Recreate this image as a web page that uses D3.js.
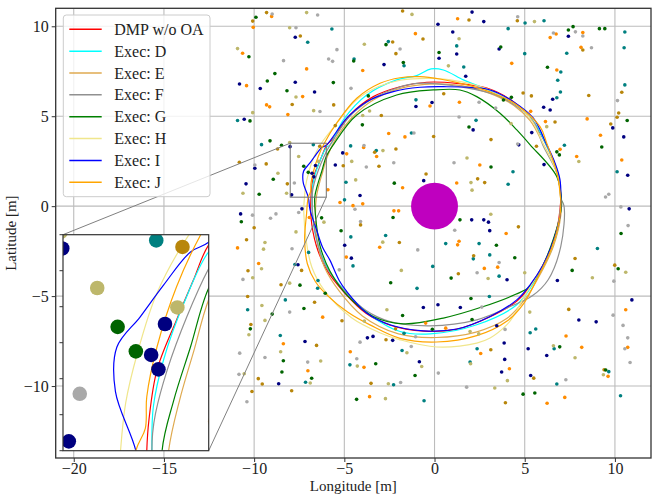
<!DOCTYPE html>
<html>
<head>
<meta charset="utf-8">
<script src="https://cdn.jsdelivr.net/npm/d3@7"></script>
<style>
  body { margin: 0; background: #fff; }
  svg text { font-family: "Liberation Serif", "Times New Roman", serif; fill: #222; }
</style>
</head>
<body>
<svg id="chart" width="657" height="496"></svg>
<script>
// --- Data ---
const seriesNames = ['DMP w/o OA', 'Exec: D', 'Exec: E', 'Exec: F', 'Exec: G', 'Exec: H', 'Exec: I', 'Exec: J'];

const trajDMP = [[7.0,0.3],[6.85,1.8],[6.05,3.7],[5.35,4.85],[4.37,5.81],[2.9,6.56],[1.23,6.83],[-0.43,6.89],[-1.91,6.64],[-3.39,6.09],[-4.69,5.07],[-5.61,3.78],[-6.0,3.36],[-6.21,2.87],[-6.44,2.32],[-6.71,1.62],[-6.82,0.93],[-6.85,0.5],[-6.85,-0.6],[-6.55,-2.2],[-6.0,-3.5],[-5.0,-4.8],[-3.8,-5.95],[-2.45,-6.62],[-0.6,-6.95],[1.2,-6.85],[3.08,-6.15],[4.6,-5.25],[5.35,-4.35],[6.25,-2.8],[6.8,-1.2],[7.0,0.3]];
const trajD = [[7.0,0.3],[6.85,1.8],[6.1,3.6],[5.45,4.75],[4.0,6.0],[2.52,6.64],[1.6,7.02],[0.49,7.57],[-0.19,7.63],[-0.99,7.26],[-2.1,7.02],[-3.76,6.18],[-5.06,4.79],[-5.79,3.41],[-6.0,3.26],[-6.34,2.55],[-6.62,1.76],[-6.76,1.11],[-6.78,0.5],[-6.75,-0.6],[-6.45,-2.2],[-5.9,-3.5],[-4.9,-4.8],[-3.5,-6.1],[-1.91,-6.97],[-0.25,-7.1],[2.34,-6.59],[4.56,-5.48],[5.6,-4.09],[6.5,-2.4],[6.9,-1.0],[7.0,0.3]];
const trajE = [[7.0,0.3],[6.8,1.8],[6.0,3.5],[5.3,4.75],[4.4,5.6],[3.0,6.3],[1.5,6.7],[0.0,6.8],[-1.9,6.55],[-3.4,5.9],[-4.6,4.9],[-5.5,3.7],[-6.0,2.6],[-6.2,1.9],[-6.4,1.2],[-6.55,0.5],[-6.6,-0.5],[-6.5,-2.0],[-6.1,-3.4],[-5.3,-4.7],[-4.0,-6.1],[-2.0,-7.1],[0.1,-7.3],[2.3,-7.0],[4.0,-6.25],[5.0,-5.2],[5.8,-3.9],[6.6,-2.2],[7.0,-0.5],[7.0,0.3]];
const trajF = [[7.0,0.4],[6.8,1.8],[6.0,3.4],[5.48,4.7],[3.63,6.09],[1.41,6.64],[-0.99,6.83],[-2.0,6.6],[-3.4,6.0],[-4.7,5.0],[-5.6,3.7],[-6.0,3.03],[-6.3,2.36],[-6.57,1.62],[-6.73,1.02],[-6.77,0.74],[-6.78,0.5],[-6.75,-0.5],[-6.5,-2.0],[-6.0,-3.4],[-5.0,-4.7],[-3.8,-5.8],[-2.47,-6.41],[-0.25,-6.65],[2.34,-6.32],[4.19,-5.58],[5.4,-5.0],[6.3,-4.09],[7.0,-2.24],[7.18,0.0],[7.0,0.4]];
const trajG = [[7.05,0.17],[6.78,1.64],[5.3,3.41],[4.56,4.24],[3.63,5.17],[2.34,6.09],[1.41,6.46],[-0.07,6.46],[-2.1,6.18],[-4.31,5.07],[-5.61,3.41],[-6.0,2.76],[-6.25,1.94],[-6.48,1.2],[-6.64,0.5],[-6.6,-0.5],[-6.35,-2.2],[-5.8,-3.6],[-4.8,-5.0],[-3.39,-6.13],[-1.73,-6.54],[0.49,-6.22],[2.71,-5.58],[4.5,-4.9],[5.25,-4.5],[6.0,-3.3],[6.6,-1.8],[7.0,-0.3],[7.05,0.17]];
const trajH = [[7.0,0.3],[6.8,1.8],[6.0,3.5],[5.4,4.75],[4.4,5.75],[3.1,6.45],[1.6,6.9],[0.0,7.1],[-1.9,7.0],[-3.1,6.65],[-4.4,5.85],[-5.5,4.5],[-6.27,3.5],[-6.71,2.69],[-6.98,1.85],[-7.14,1.16],[-7.21,0.5],[-7.25,-0.3],[-7.1,-2.0],[-6.8,-3.4],[-6.1,-4.7],[-4.6,-6.2],[-3.0,-7.05],[-1.91,-7.43],[0.12,-7.83],[2.34,-7.61],[3.08,-7.33],[4.0,-6.6],[4.37,-6.13],[4.93,-5.1],[5.6,-4.0],[6.5,-2.3],[6.95,-0.5],[7.0,0.3]];
const trajI = [[7.0,0.3],[6.95,1.5],[6.6,2.6],[6.22,3.41],[5.48,4.89],[4.37,5.81],[3.08,6.46],[2.15,6.59],[0.68,6.64],[-0.8,6.61],[-2.29,6.37],[-3.76,5.81],[-4.87,4.89],[-5.98,3.41],[-6.25,3.26],[-6.62,2.8],[-6.94,2.36],[-7.26,1.94],[-7.28,1.32],[-7.0,0.5],[-6.9,-0.2],[-6.6,-1.13],[-6.2,-2.3],[-5.8,-3.0],[-5.3,-4.1],[-4.9,-4.7],[-3.76,-5.94],[-2.47,-6.59],[-0.62,-6.93],[1.23,-6.83],[3.08,-6.13],[4.56,-5.21],[5.3,-4.37],[6.0,-3.3],[6.6,-1.9],[6.95,-0.6],[7.0,0.3]];
const trajJ = [[7.0,0.3],[6.8,1.8],[6.22,3.5],[5.85,4.42],[4.56,5.63],[3.26,6.28],[1.79,6.74],[0.3,7.07],[-0.8,7.2],[-1.91,7.14],[-3.02,6.83],[-4.31,6.0],[-5.43,4.61],[-6.11,3.5],[-6.44,2.78],[-6.71,1.94],[-6.85,1.25],[-6.87,0.81],[-7.0,0.5],[-7.1,-0.5],[-7.2,-1.8],[-7.05,-3.2],[-6.6,-4.2],[-5.9,-5.0],[-4.8,-5.9],[-3.58,-6.6],[-1.91,-7.35],[0.12,-7.55],[2.34,-7.2],[4.0,-6.4],[4.95,-5.4],[5.7,-4.0],[6.5,-2.3],[6.95,-0.6],[7.0,0.3]];

const obsNavy = [[0.19,10.11],[-7.72,9.39],[0.25,8.22],[-2.80,7.87],[-10.81,6.79],[-7.72,6.89],[-9.66,6.54],[-6.65,6.35],[-1.03,5.54],[-0.14,5.76],[-10.55,4.83],[-8.01,3.31],[-5.09,2.96],
  [-9.96,2.11],[-10.45,1.24],[-7.92,0.63],[-6.79,1.83],[-6.69,1.63],[-6.6,2.26],[-5.50,2.29],[-0.60,1.42],[-4.13,0.59],[-10.75,-0.43],[-7.35,-0.15],[-4.98,-2.17],[-4.61,-2.89],[-7.57,-3.26],
  [-7.18,-7.52],[-3.72,-7.32],[-3.41,-7.24],[-2.32,-7.46],[-0.84,-8.65],[-0.62,-5.63],[0.19,-5.48],[-8.64,-9.87],
  [2.08,10.79],[2.73,10.26],[1.01,9.68],[1.23,8.46],[1.73,7.22],[3.58,8.74],[7.42,9.45],[6.55,5.94],[9.88,4.35],[10.49,3.85],[6.05,5.5],[6.41,5.35],[2.14,4.24],[4.67,3.41],[5.39,4.09],
  [6.07,2.31],[10.71,1.72],[10.79,-0.15],[2.06,-0.76],[2.73,-0.76],[2.99,-0.89],[3.06,-1.36],[4.02,-4.09],[6.81,-4.13],
  [1.43,-5.63],[3.45,-6.65],[3.86,-7.61],[3.89,-8.52],[3.72,-9.22],[5.33,-9.41],[5.19,-7.93],[6.22,-8.3],[8.0,-6.33],[8.96,-6.43],[10.94,-5.21]];
const obsTeal = [[-7.03,9.11],[-5.69,9.85],[-2.56,9.15],[-4.46,8.18],[-1.69,7.81],[-1.03,5.91],[-10.92,4.76],[-1.28,4.07],[-9.59,3.42],[-6.72,3.42],[-4.65,3.35],[-3.23,3.09],
  [-4.91,1.33],[-4.99,0.35],[-6.98,-2.57],[-4.64,-1.71],[-2.71,-1.63],[-4.52,-3.32],[-7.74,-3.24],[-6.46,-4.13],[-6.48,-4.56],[-0.97,-4.57],[-0.1,-3.35],
  [-10.36,-5.76],[-8.27,-5.21],[-8.55,-7.19],[-7.15,-9.79],[-4.69,-8.82],[-1.8,-8.02],[-1.69,-7.07],[-2.27,-9.93],[-0.58,-10.82],
  [5.02,10.18],[6.07,10.31],[1.23,8.91],[1.62,7.74],[4.08,9.87],[5.0,8.48],[10.55,9.68],[10.51,8.81],[7.33,8.5],[7.0,7.46],[6.83,7.0],[6.98,6.35],[6.78,6.03],[10.55,6.74],[2.3,4.77],[7.2,3.39],
  [4.35,1.91],[10.12,1.91],[4.08,1.22],[0.62,-2.08],[2.47,-2.08],[3.06,-2.71],[2.15,-2.93],[3.58,-3.89],[9.03,-2.35],
  [3.04,-5.02],[2.36,-7.93],[1.97,-8.67],[6.78,-9.89],[5.3,-7.04],[5.61,-6.83],[6.63,-7.93],[9.66,-9.2],[10.31,-10.54]];
const obsOrange = [[-9.03,10.55],[-10.05,9.94],[-1.06,9.59],[-10.64,8.50],[-7.09,7.63],[-3.98,7.54],[-10.42,6.70],[-7.31,6.09],[-9.31,5.63],[-9.14,5.52],[-8.13,5.09],[-0.25,5.57],[-2.54,4.04],[-1.64,3.85],[-3.93,3.26],[-4.87,2.91],[-3.21,2.76],
  [-1.77,1.02],[-5.24,0.2],[-5.91,0.91],[-4.52,0.03],[-3.98,0.13],[-2.25,-0.26],[-1.99,-0.26],[-6.94,-0.63],[-10.92,-2.32],[-3.04,-2.28],[-4.89,-2.83],[-9.75,-3.19],
  [-6.2,-6.17],[-8.38,-7.65],[-7.02,-9.15],[-4.67,-8.09],[-3.91,-8.96],[-0.49,-6.5],[-3.6,-10.59],
  [1.28,10.42],[4.28,7.94],[6.41,9.37],[6.74,9.57],[8.22,9.65],[8.12,8.83],[6.78,7.57],[9.2,3.94],[8.46,4.85],[10.38,2.57],[5.33,5.27],[6.15,4.7],[6.96,3.16],[7.88,2.76],[1.38,5.78],
  [2.51,2.29],[1.23,1.29],[3.97,-1.52],[1.36,-1.95],[1.28,-2.15],[3.5,-3.39],[2.76,-3.46],
  [0.62,-6.78],[2.56,-8.19],[4.15,-9.04],[6.24,-10.96],[7.22,-10.63],[7.29,-7.22],[8.16,-7.85],[9.62,-9.46],[10.6,-5.76],[10.71,-7.85]];
const obsGold = [[-10.08,10.29],[-9.31,10.76],[-1.77,10.85],[-7.44,9.46],[-2.32,9.13],[-2.14,8.48],[-0.64,9.29],[-7.89,5.65],[-5.59,5.63],[-2.95,5.04],[-5.50,4.48],[-0.05,3.87],[-8.70,3.18],[-6.36,3.33],[-3.32,3.0],[-2.14,3.18],
  [-10.82,2.44],[-9.33,2.35],[-5.06,2.25],[-3.08,2.22],[-0.47,1.79],[-8.16,1.24],[-4.10,-1.04],[-10.0,-1.2],[-10.42,-1.87],[-1.95,-2.02],[-10.34,-3.59],[-7.37,-3.57],[-8.51,-4.37],
  [-10.36,-5.02],[-6.65,-5.34],[-5.13,-6.37],[-10.18,-6.58],[-6.54,-7.74],[-9.77,-9.59],[-9.55,-9.89],[-10.12,-10.3],[-7.92,-10.26],[-2.69,-7.43],[-2.16,-6.82],[-3.52,-9.85],
  [1.91,10.35],[4.59,10.31],[8.22,8.68],[8.55,6.15],[10.38,6.33],[10.21,5.18],[10.12,4.94],[9.77,4.57],[6.68,4.68],[4.91,6.29],[5.37,6.13],[0.51,6.25],[3.13,3.7],[5.65,3.33],
  [2.39,1.52],[2.78,1.31],[4.65,-1.15],[2.17,-2.76],[1.32,-3.76],[7.79,-2.91],[9.99,-3.28],
  [3.12,-7.98],[3.93,-10.93],[5.5,-9.56],[7.44,-5.74],[9.4,-9.09]];
const obsGreen = [[-9.90,10.50],[-2.69,8.98],[0.25,8.54],[-4.48,8.07],[-1.73,7.98],[-8.85,7.37],[-9.27,6.96],[-5.61,6.87],[-8.18,6.42],[-10.29,8.31],[-3.67,6.13],[-10.23,4.74],[-4.0,4.52],[-9.12,3.63],[-8.48,3.39],
  [-8.94,1.50],[-9.72,0.66],[-7.25,2.22],[-7.0,1.88],[-2.23,1.28],[-2.30,-0.63],[-10.71,-0.87],[-6.26,-0.65],[-5.18,-1.37],[-7.46,-4.39],[-2.43,-4.26],
  [-9.0,-6.0],[-7.24,-5.69],[-6.06,-4.84],[-10.21,-6.82],[-8.38,-8.59],[-8.46,-9.22],[-6.81,-9.57],[-3.26,-8.76],[-1.77,-6.08],[-1.08,-9.41],[-0.12,-6.84],[-4.32,-10.74],
  [3.67,8.85],[7.42,9.79],[7.68,9.98],[9.14,9.87],[9.44,9.87],[6.26,7.72],[10.68,4.76],[9.27,3.29],[4.26,6.05],[6.78,3.02],[6.92,2.85],[1.91,4.4],[3.82,5.9],
  [3.13,2.18],[1.41,-0.76],[3.43,-2.17],[4.45,-2.87],[0.92,-4.0],[7.63,-3.57],[10.18,-3.48],[10.34,-1.52],
  [2.02,-5.13],[2.08,-6.3],[4.91,-10.45],[5.56,-10.39],[6.94,-7.82],[9.49,-9.11]];
const obsKhaki = [[-7.09,10.76],[-1.25,10.66],[-8.03,9.92],[-3.89,9.0],[-10.92,8.76],[-7.68,6.07],[-6.70,5.31],[-10.08,5.20],[-3.98,5.04],[-3.60,5.29],[-8.03,3.54],[-7.53,2.76],[-2.86,3.09],
  [-8.68,1.83],[-10.62,0.72],[-8.2,0.72],[-6.43,2.49],[-4.59,2.49],[-4.37,1.46],[-6.13,-0.89],[-7.68,-1.43],[-9.4,-2.02],[-9.48,-2.39],[-2.87,-2.0],[-9.59,-3.48],[-10.08,-3.98],[-8.03,-4.28],[-1.84,-3.57],
  [-9.57,-5.52],[-10.29,-7.15],[-9.4,-6.35],[-8.53,-8.09],[-6.31,-8.61],[-10.55,-9.32],[-6.89,-9.83],[-4.28,-8.89],[-1.53,-8.15],[-2.64,-5.76],[-3.89,-6.39],[-0.71,-8.91],[-2.56,-9.87],[-2.72,-10.7],
  [5.54,10.26],[1.36,9.31],[0.77,7.8],[6.22,4.42],[4.24,4.59],[1.8,2.68],
  [8.0,2.48],[2.02,1.31],[2.08,0.89],[3.12,-0.45],[2.97,-4.02],[5.0,-3.7],[8.75,-3.98],[10.6,-3.67],
  [1.97,-6.97],[2.45,-7.1],[2.0,-8.76],[4.04,-9.7],[3.34,-10.11],[5.28,-5.89],[6.59,-7.76],[7.79,-8.43],[9.36,-9.37]];
const obsGray = [[-9.0,10.68],[-6.48,10.63],[-7.68,9.92],[-1.91,8.74],[-5.41,8.70],[-5.87,8.18],[-5.65,8.05],[-8.37,8.09],[-4.63,6.55],[-6.35,5.26],[-1.14,4.07],[-3.91,3.37],
  [-9.96,2.29],[-7.77,1.29],[-3.78,2.18],[-2.26,2.41],[-4.41,-0.17],[-10.09,-0.50],[-9.09,-0.67],[-8.79,-0.43],[-7.53,-0.35],[-7.9,-2.37],[-4.10,-0.85],[-0.93,-2.43],[-5.28,-3.54],[-10.62,-4.07],
  [-8.03,-5.89],[-10.8,-8.17],[-9.4,-8.41],[-7.03,-8.67],[-10.84,-9.35],[-10.4,-10.87],[-4.13,-7.56],[-4.31,-8.48],[-1.29,-7.8],[-1.05,-7.26],[-1.88,-9.8],[0.21,-9.28],
  [4.61,10.53],[6.59,9.63],[7.81,9.69],[8.22,9.46],[8.7,8.81],[10.14,5.87],[2.47,5.78],[3.39,5.46],[1.36,4.96],[4.61,3.46],
  [1.08,2.41],[9.48,0.51],[9.66,0.66],[10.33,-0.04],[1.12,-1.34],[3.58,-3.13],[2.36,-3.7],[9.94,-4.17],[10.73,-1.08],
  [2.62,-5.61],[3.91,-6.85],[1.78,-10.06],[7.28,-9.65],[9.9,-6.06],[10.45,-6.63],[10.71,-7.32],[10.55,-7.93],[10.84,-8.69]];

const goalCenter = [0, 0];
const goalRadius = 1.3;      // m
const obstacleRadius = 0.1;  // m

const xTicks = [-20, -15, -10, -5, 0, 5, 10];
const yTicks = [-10, -5, 0, 5, 10];
const insetYTicks = [0.5, 1, 1.5, 2, 2.5, 3, 3.5];
const xDomain = [-21, 12], yDomain = [-14, 11];
const insetXDomain = [-8, -6], insetYDomain = [0.5, 3.5];

// --- Styles ---
const seriesColors = ['#ff0000', '#00ffff', '#dfaa50', '#909090', '#008000', '#f0e68c', '#0000ff', '#ffa500'];
const trajectories = [trajDMP, trajD, trajE, trajF, trajG, trajH, trajI, trajJ];
const obstacleGroups = [
  { pts: obsNavy, color: '#000080' },
  { pts: obsTeal, color: '#008080' },
  { pts: obsOrange, color: '#ff8c00' },
  { pts: obsGold, color: '#b8860b' },
  { pts: obsGreen, color: '#006400' },
  { pts: obsKhaki, color: '#bdb76b' },
  { pts: obsGray, color: '#a9a9a9' }
];

// --- Layout ---
const plot = { left: 55.7, right: 651, top: 8.3, bottom: 458 };
const insetBox = { left: 63, right: 208.7, top: 234.7, bottom: 450.7 };

const svg = d3.select('#chart');
const x = d3.scaleLinear().domain(xDomain).range([plot.left, plot.right]);
const y = d3.scaleLinear().domain(yDomain).range([plot.bottom, plot.top]);
const xi = d3.scaleLinear().domain(insetXDomain).range([insetBox.left, insetBox.right]);
const yi = d3.scaleLinear().domain(insetYDomain).range([insetBox.bottom, insetBox.top]);

const defs = svg.append('defs');
defs.append('clipPath').attr('id', 'clip-main').append('rect')
  .attr('x', plot.left).attr('y', plot.top)
  .attr('width', plot.right - plot.left).attr('height', plot.bottom - plot.top);
defs.append('clipPath').attr('id', 'clip-inset').append('rect')
  .attr('x', insetBox.left).attr('y', insetBox.top)
  .attr('width', insetBox.right - insetBox.left).attr('height', insetBox.bottom - insetBox.top);

// grid
const grid = svg.append('g').attr('stroke', '#bcbcbc').attr('stroke-width', 1.1);
grid.selectAll('.gx').data(xTicks).join('line')
  .attr('x1', d => x(d)).attr('x2', d => x(d)).attr('y1', plot.top).attr('y2', plot.bottom);
grid.selectAll('.gy').data(yTicks).join('line')
  .attr('y1', d => y(d)).attr('y2', d => y(d)).attr('x1', plot.left).attr('x2', plot.right);

// draws the scene (goal, trajectories, obstacles) with a pair of scales
function drawScene(g, sx, sy, lineWidth) {
  const k = Math.abs(sx(1) - sx(0));
  g.append('circle')
    .attr('cx', sx(goalCenter[0])).attr('cy', sy(goalCenter[1]))
    .attr('r', goalRadius * k).attr('fill', '#bf00bf');
  const line = d3.line().x(d => sx(d[0])).y(d => sy(d[1])).curve(d3.curveCatmullRom.alpha(0.5));
  g.selectAll('path.traj').data(trajectories).join('path')
    .attr('class', 'traj')
    .attr('d', line)
    .attr('fill', 'none')
    .attr('stroke', (d, i) => seriesColors[i])
    .attr('stroke-width', lineWidth);
  obstacleGroups.forEach(grp => {
    g.append('g').selectAll('circle').data(grp.pts).join('circle')
      .attr('cx', d => sx(d[0])).attr('cy', d => sy(d[1]))
      .attr('r', obstacleRadius * k)
      .attr('fill', grp.color);
  });
}

drawScene(svg.append('g').attr('clip-path', 'url(#clip-main)'), x, y, 1.2);

// zoom rectangle + connectors
svg.append('rect')
  .attr('x', x(insetXDomain[0])).attr('y', y(insetYDomain[1]))
  .attr('width', x(insetXDomain[1]) - x(insetXDomain[0]))
  .attr('height', y(insetYDomain[0]) - y(insetYDomain[1]))
  .attr('fill', 'none').attr('stroke', '#707070').attr('stroke-width', 1);
const connectors = [
  [[x(insetXDomain[0]), y(insetYDomain[1])], [insetBox.left, insetBox.top]],
  [[x(insetXDomain[1]), y(insetYDomain[0])], [insetBox.right, insetBox.bottom]]
];
svg.selectAll('line.conn').data(connectors).join('line')
  .attr('class', 'conn')
  .attr('x1', d => d[0][0]).attr('y1', d => d[0][1])
  .attr('x2', d => d[1][0]).attr('y2', d => d[1][1])
  .attr('stroke', '#808080').attr('stroke-width', 1);

// inset
svg.append('rect')
  .attr('x', insetBox.left).attr('y', insetBox.top)
  .attr('width', insetBox.right - insetBox.left).attr('height', insetBox.bottom - insetBox.top)
  .attr('fill', '#fff');
drawScene(svg.append('g').attr('clip-path', 'url(#clip-inset)'), xi, yi, 1.2);
svg.append('rect')
  .attr('x', insetBox.left).attr('y', insetBox.top)
  .attr('width', insetBox.right - insetBox.left).attr('height', insetBox.bottom - insetBox.top)
  .attr('fill', 'none').attr('stroke', '#333').attr('stroke-width', 1.2);
svg.append('g').selectAll('line').data(insetYTicks).join('line')
  .attr('x1', insetBox.left - 3.5).attr('x2', insetBox.left)
  .attr('y1', d => yi(d)).attr('y2', d => yi(d))
  .attr('stroke', '#333').attr('stroke-width', 1);

// legend
const legend = svg.append('g');
legend.append('rect')
  .attr('x', 63.3).attr('y', 15).attr('width', 146.7).attr('height', 181.7)
  .attr('rx', 3).attr('fill', '#fff').attr('fill-opacity', 0.8)
  .attr('stroke', '#cccccc').attr('stroke-width', 1);
const rows = legend.selectAll('g.row').data(seriesNames).join('g')
  .attr('class', 'row')
  .attr('transform', (d, i) => `translate(0,${29.3 + i * 21.85})`);
rows.append('line')
  .attr('x1', 69.3).attr('x2', 101.7).attr('y1', 0).attr('y2', 0)
  .attr('stroke', (d, i) => seriesColors[i]).attr('stroke-width', 1.5);
rows.append('text')
  .attr('x', 114.3).attr('y', 5.5)
  .attr('font-size', 16)
  .text(d => d);

// spines + axes
svg.append('rect')
  .attr('x', plot.left).attr('y', plot.top)
  .attr('width', plot.right - plot.left).attr('height', plot.bottom - plot.top)
  .attr('fill', 'none').attr('stroke', '#333').attr('stroke-width', 1.3);

const xAxis = svg.append('g').attr('transform', `translate(0,${plot.bottom})`)
  .call(d3.axisBottom(x).tickValues(xTicks).tickSize(4).tickPadding(1));
const yAxis = svg.append('g').attr('transform', `translate(${plot.left},0)`)
  .call(d3.axisLeft(y).tickValues(yTicks).tickSize(4).tickPadding(3));
[xAxis, yAxis].forEach(a => {
  a.select('.domain').remove();
  a.selectAll('.tick line').attr('stroke', '#333');
  a.selectAll('.tick text')
    .attr('font-size', 16)
    .attr('font-family', '"Liberation Serif", "Times New Roman", serif')
    .attr('fill', '#222');
});

svg.append('text')
  .attr('x', (plot.left + plot.right) / 2).attr('y', 491)
  .attr('text-anchor', 'middle').attr('font-size', 15)
  .text('Longitude [m]');
svg.append('text')
  .attr('transform', `translate(16,${(plot.top + plot.bottom) / 2}) rotate(-90)`)
  .attr('text-anchor', 'middle').attr('font-size', 15)
  .text('Latitude [m]');
</script>
</body>
</html>
